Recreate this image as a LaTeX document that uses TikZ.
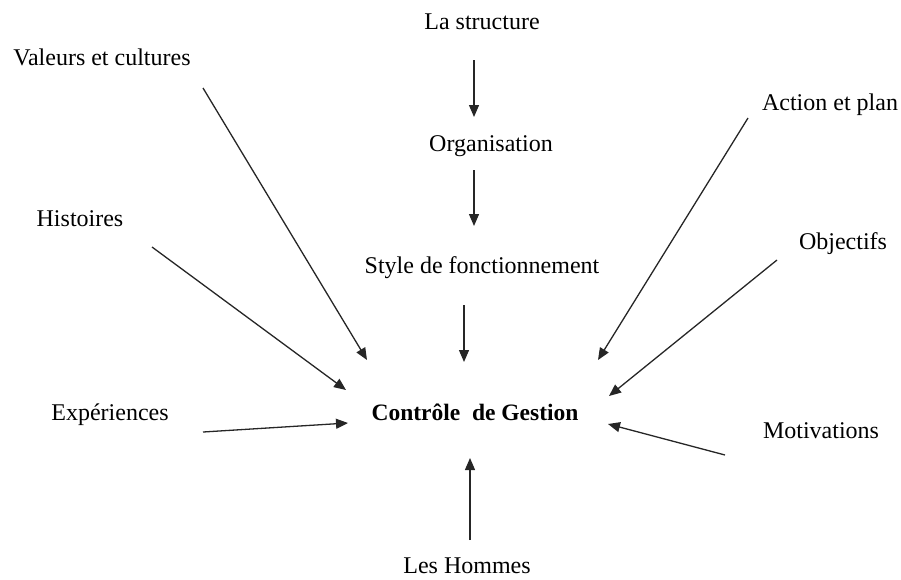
\documentclass[tikz,border=0pt]{standalone}
\usepackage{fontspec}
\setmainfont{Liberation Serif}
\usetikzlibrary{arrows.meta}
\begin{document}
\begin{tikzpicture}[x=1pt,y=-1pt,
  lbl/.style={font=\fontsize{24}{28}\selectfont, inner sep=0pt},
  ctr/.style={font=\fontsize{23.5}{28}\selectfont\bfseries, inner sep=0pt},
  arr/.style={-{Triangle[length=12pt,width=10pt]}, line width=1.3pt, black!85}]
\useasboundingbox (0,0) rectangle (901,579);
\node[lbl] (struct) at (482,22) {La structure};
\node[lbl] (orga) at (491,146) {Organisation};
\node[lbl] (style) at (482,268) {Style de fonctionnement};
\node[ctr] (cg) at (475,412) {Contrôle\ \ de Gestion};
\node[lbl] (hommes) at (467,566) {Les Hommes};
\node[lbl] (valeurs) at (102,57) {Valeurs et cultures};
\node[lbl] (hist) at (80,219) {Histoires};
\node[lbl] (exp) at (110,415) {Expériences};
\node[lbl] (action) at (830,105) {Action et plan};
\node[lbl] (obj) at (843,244) {Objectifs};
\node[lbl] (motiv) at (821,431) {Motivations};

\coordinate (a1s) at (474,60);  \coordinate (a1e) at (474,117);
\coordinate (a2s) at (474,170); \coordinate (a2e) at (474,226);
\coordinate (a3s) at (464,305); \coordinate (a3e) at (464,362);
\coordinate (a4s) at (203,88);  \coordinate (a4e) at (367,360);
\coordinate (a5s) at (152,247); \coordinate (a5e) at (346,390);
\coordinate (a6s) at (203,432); \coordinate (a6e) at (348,423);
\coordinate (a7s) at (748,118); \coordinate (a7e) at (598,360);
\coordinate (a8s) at (777,260); \coordinate (a8e) at (609,396);
\coordinate (a9s) at (725,455); \coordinate (a9e) at (608,424);
\coordinate (a10s) at (470,540); \coordinate (a10e) at (470,458);

\draw[arr] (a1s) -- (a1e);
\draw[arr] (a2s) -- (a2e);
\draw[arr] (a3s) -- (a3e);
\draw[arr] (a4s) -- (a4e);
\draw[arr] (a5s) -- (a5e);
\draw[arr] (a6s) -- (a6e);
\draw[arr] (a7s) -- (a7e);
\draw[arr] (a8s) -- (a8e);
\draw[arr] (a9s) -- (a9e);
\draw[arr] (a10s) -- (a10e);
\end{tikzpicture}
\end{document}
